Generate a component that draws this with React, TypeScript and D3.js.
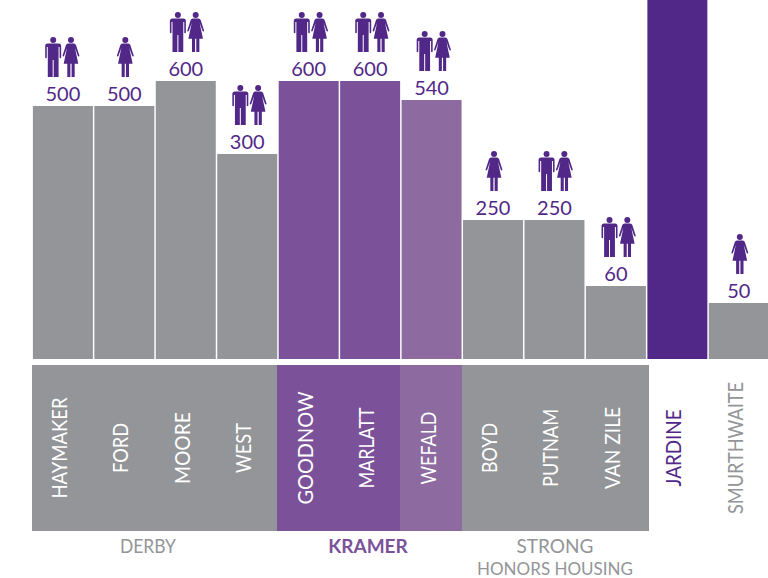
import * as d3 from "d3";

const halls = ["HAYMAKER", "FORD", "MOORE", "WEST", "GOODNOW", "MARLATT", "WEFALD", "BOYD", "PUTNAM", "VAN ZILE", "JARDINE", "SMURTHWAITE"];
// Jardine has no printed number, its bar just runs off the top
const residents: (number | null)[] = [500, 500, 600, 300, 600, 600, 540, 250, 250, 60, null, 50];
// m = men and women, f = women only
const occupants = ["mf", "f", "mf", "mf", "mf", "mf", "mf", "f", "mf", "mf", "", "f"];
const barKinds = ["gray", "gray", "gray", "gray", "kramer", "kramer", "wefald", "gray", "gray", "gray", "jardine", "gray"];

const blockLastHall = ["WEST", "MARLATT", "WEFALD", "VAN ZILE"];
const blockKinds = ["gray", "kramer", "wefald", "gray"];

const WIDTH = 768;
const HEIGHT = 578;
const BASE = 359;
const FONT = "Lato, 'Open Sans', sans-serif";
const PURPLE = "#512888";

const colors: Record<string, string> = {
  gray: "#939598",
  kramer: "#7b5299",
  wefald: "#8d6ba1",
  jardine: PURPLE,
};

// the bars in the source are not to scale, so this is a piecewise scale read off the picture
const valueStops = [50, 60, 250, 300, 500, 540, 600];
const topStops = [303, 286, 220, 154, 106, 100, 81];
const y = d3.scaleLinear().domain(valueStops).range(topStops);

const x = d3
  .scaleBand<string>()
  .domain(halls)
  .range([32.9, 768.8])
  .paddingInner(0.024)
  .paddingOuter(0);

// layout tweaks: the icons were placed by hand in the original, and its font is narrower than Lato
const iconShift = [-0.8, 1, 1, 2, 2, 2, 2, 1, 1, 2.5, 0, 1];
const labelLength: Record<string, number> = {
  HAYMAKER: 101, FORD: 50, MOORE: 72, WEST: 50, GOODNOW: 113, MARLATT: 81,
  WEFALD: 73, BOYD: 50, PUTNAM: 78, "VAN ZILE": 82, JARDINE: 77, SMURTHWAITE: 132,
};

const MAN =
  "M-5.5,-33.5H5.5Q8,-33.5 8,-31V-19.5a.8,.8 0 0 1 -1.6,0V-30H5.4V0H.5V-17H-.5V0H-5.4V-30H-6.4V-19.5a.8,.8 0 0 1 -1.6,0V-31Q-8,-33.5 -5.5,-33.5Z";
const WOMAN =
  "M-3,-33.5H3Q4.3,-33.5 5,-32L8.4,-21.5a.8,.8 0 0 1 -1.5,.5L4,-29L7.3,-13.3H3.7V0H.6V-13.3H-.6V0H-3.7V-13.3H-7.3L-4,-29L-6.9,-21a.8,.8 0 0 1 -1.5,-.5L-5,-32Q-4.3,-33.5 -3,-33.5Z";

function Person({ kind, cx, bottom }: { kind: string; cx: number; bottom: number }) {
  return (
    <g transform={`translate(${cx},${bottom})`} fill={PURPLE}>
      <circle cx={0} cy={-37} r={3} />
      <path d={kind === "m" ? MAN : WOMAN} />
    </g>
  );
}

export default function App() {
  const bw = x.bandwidth();

  // whole pixels and shared edges so neighbouring blocks leave no seam
  const blockEdges = [32, ...blockLastHall.map((h) => Math.round(x(h)! + bw))];
  blockEdges[4] += 3;

  return (
    <svg width={WIDTH} height={HEIGHT} style={{ position: "absolute", left: 0, top: 0, fontFamily: FONT }}>
      {halls.map((h, i) => {
        const v = residents[i];
        const top = v === null ? 0 : y(v);
        const cx = x(h)! + bw / 2;
        const iconX = cx + iconShift[i];
        return (
          <g key={h}>
            <rect x={x(h)} y={top} width={bw} height={BASE - top} fill={colors[barKinds[i]]} />
            {v !== null && (
              <text x={cx} y={top - 5.5} textAnchor="middle" fontSize={20} fill={PURPLE}>
                {v}
              </text>
            )}
            {occupants[i] === "mf" && <Person kind="m" cx={iconX - 8.9} bottom={top - 29} />}
            {occupants[i] === "mf" && <Person kind="f" cx={iconX + 8.9} bottom={top - 29} />}
            {occupants[i] === "f" && <Person kind="f" cx={iconX} bottom={top - 29} />}
          </g>
        );
      })}

      {blockKinds.map((kind, i) => (
        <rect
          key={i}
          x={blockEdges[i]}
          y={365}
          width={blockEdges[i + 1] - blockEdges[i]}
          height={166}
          fill={colors[kind]}
        />
      ))}

      {halls.map((h) => {
        const base = x(h)! + bw / 2 + 4;
        const fill = h === "JARDINE" ? PURPLE : h === "SMURTHWAITE" ? colors.gray : "#fff";
        return (
          <text
            key={h}
            transform={`translate(${base},448) rotate(-90)`}
            textAnchor="middle"
            fontSize={22}
            textLength={labelLength[h]}
            lengthAdjust="spacingAndGlyphs"
            fill={fill}
          >
            {h}
          </text>
        );
      })}

      <text x={148} y={553} textAnchor="middle" fontSize={19} textLength={56} lengthAdjust="spacingAndGlyphs" fill={colors.gray}>
        DERBY
      </text>
      <text x={368} y={553} textAnchor="middle" fontSize={19} fontWeight={700} fill={colors.kramer}>
        KRAMER
      </text>
      <text x={555} y={553} textAnchor="middle" fontSize={19} fill={colors.gray}>
        STRONG
      </text>
      <text x={555} y={575} textAnchor="middle" fontSize={17} textLength={156} lengthAdjust="spacingAndGlyphs" fill={colors.gray}>
        HONORS HOUSING
      </text>
    </svg>
  );
}
